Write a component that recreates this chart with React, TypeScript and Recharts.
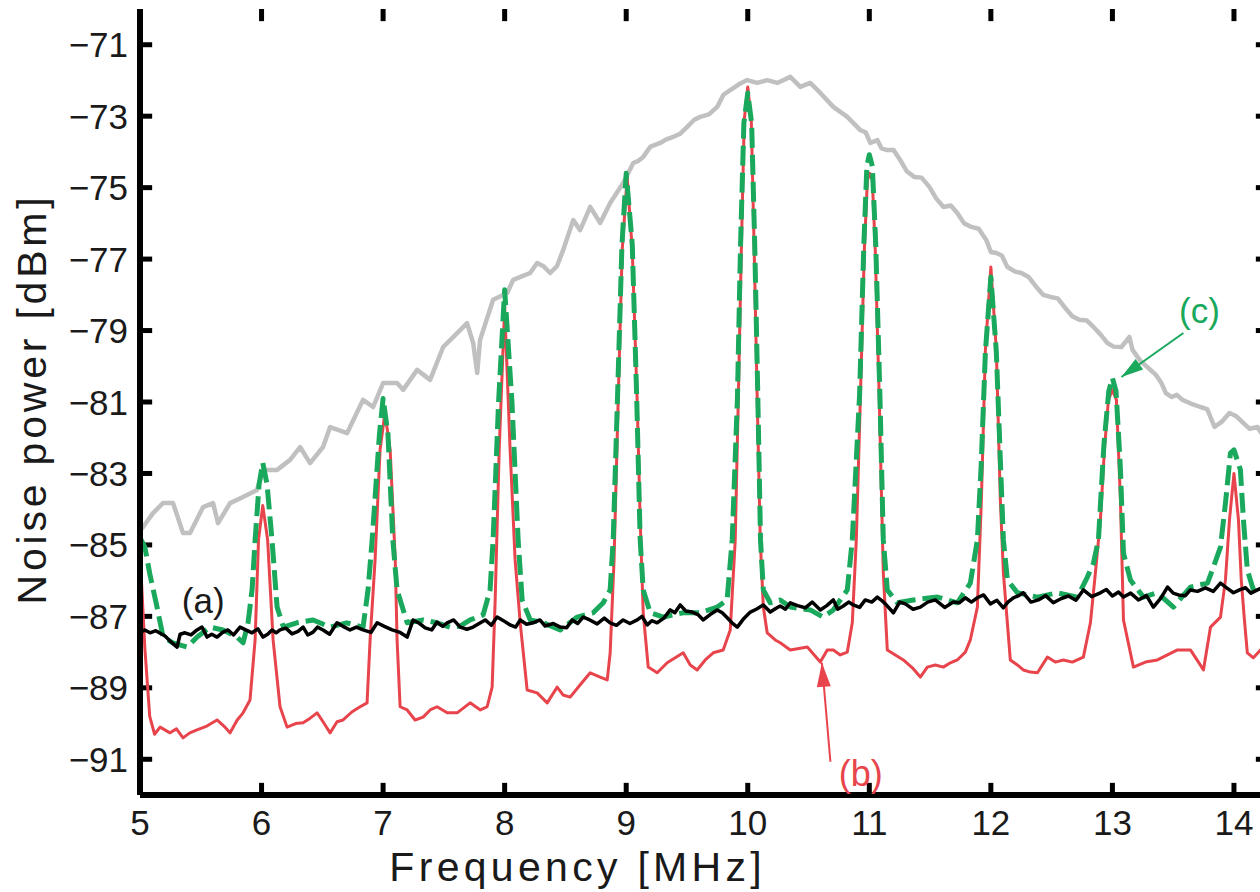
import React from 'react';
import { LineChart, Line, XAxis, YAxis, ReferenceLine, ReferenceDot } from 'recharts';

type Pt = { f: number; p: number };
const toPts = (arr: number[][]): Pt[] => arr.map(([f, p]) => ({ f, p }));

const X_TICKS = [5, 6, 7, 8, 9, 10, 11, 12, 13, 14];
const Y_TICKS = [-91, -89, -87, -85, -83, -81, -79, -77, -75, -73, -71];
const X_DOMAIN = [5, 14.28];
const Y_DOMAIN = [-92, -70];

// gray: reference (broad) spectrum
const grayRaw = [
  [5.0, -84.6], [5.025, -84.5], [5.107, -84.11], [5.189, -83.83], [5.272, -83.83], [5.354, -84.67],
  [5.412, -84.67], [5.519, -83.94], [5.601, -83.83], [5.642, -84.39], [5.741, -83.83], [5.848, -83.66],
  [5.963, -83.46], [6.012, -82.9], [6.128, -82.9], [6.235, -82.62], [6.317, -82.26], [6.399, -82.71],
  [6.506, -82.26], [6.564, -81.7], [6.704, -81.87], [6.835, -80.94], [6.918, -81.14], [7.0, -80.47],
  [7.115, -80.47], [7.165, -80.66], [7.28, -80.1], [7.387, -80.38], [7.494, -79.46], [7.609, -79.07],
  [7.691, -78.79], [7.741, -79.35], [7.774, -80.19], [7.798, -79.26], [7.905, -78.14], [8.021, -77.95],
  [8.07, -77.58], [8.13, -77.5], [8.21, -77.39], [8.267, -77.11], [8.32, -77.2], [8.374, -77.39],
  [8.43, -77.2], [8.481, -76.75], [8.564, -75.91], [8.621, -76.19], [8.704, -75.54], [8.786, -75.99],
  [8.868, -75.43], [8.975, -74.87], [9.058, -74.31], [9.1, -74.25], [9.14, -74.14], [9.2, -73.85],
  [9.28, -73.75], [9.33, -73.65], [9.387, -73.58], [9.44, -73.5], [9.502, -73.3], [9.56, -73.1],
  [9.609, -73.02], [9.68, -72.95], [9.749, -72.74], [9.8, -72.4], [9.856, -72.27], [9.93, -72.1],
  [9.996, -71.99], [10.078, -72.07], [10.16, -71.99], [10.243, -72.07], [10.35, -71.9], [10.432, -72.18],
  [10.514, -72.07], [10.597, -72.35], [10.704, -72.74], [10.819, -73.02], [10.926, -73.39], [10.97, -73.45],
  [11.008, -73.75], [11.066, -73.67], [11.1, -73.9], [11.148, -73.95], [11.2, -73.95], [11.255, -74.23],
  [11.31, -74.55], [11.37, -74.7], [11.43, -74.72], [11.494, -74.98], [11.55, -75.3], [11.609, -75.54],
  [11.67, -75.5], [11.724, -75.71], [11.78, -76.0], [11.84, -76.1], [11.9, -76.15], [11.963, -76.47],
  [12.0, -76.8], [12.045, -76.83], [12.09, -76.9], [12.136, -77.22], [12.2, -77.35], [12.251, -77.39],
  [12.31, -77.5], [12.374, -77.78], [12.43, -78.0], [12.49, -78.06], [12.55, -78.1], [12.605, -78.34],
  [12.67, -78.6], [12.728, -78.7], [12.79, -78.72], [12.844, -78.9], [12.9, -79.1], [12.959, -79.35],
  [13.01, -79.45], [13.074, -79.46], [13.14, -79.18], [13.165, -79.54], [13.23, -79.85], [13.313, -80.1],
  [13.36, -80.25], [13.403, -80.47], [13.44, -80.75], [13.486, -80.86], [13.53, -80.8], [13.576, -80.94],
  [13.65, -81.05], [13.724, -81.14], [13.78, -81.2], [13.84, -81.7], [13.9, -81.55], [13.963, -81.31],
  [14.02, -81.4], [14.078, -81.59], [14.13, -81.75], [14.193, -81.7], [14.26, -82.06], [14.32, -82.1],
];

// red (b)
const redRaw = [
  [5.0, -85.2], [5.04, -87.9], [5.08, -89.8], [5.12, -90.3], [5.165, -90.1], [5.247, -90.26], [5.3, -90.15],
  [5.354, -90.4], [5.41, -90.26], [5.469, -90.18], [5.55, -90.07], [5.634, -89.9], [5.69, -90.07], [5.741, -90.26],
  [5.8, -89.9], [5.848, -89.7], [5.905, -89.34], [5.947, -87.66], [5.975, -84.86], [6.01, -83.9], [6.05, -84.86],
  [6.095, -87.66], [6.152, -89.53], [6.21, -90.1], [6.28, -90.0], [6.342, -89.98], [6.4, -89.85], [6.457, -89.7],
  [6.506, -89.95], [6.564, -90.26], [6.621, -89.95], [6.671, -89.9], [6.745, -89.67], [6.811, -89.53],
  [6.868, -89.42], [6.893, -87.66], [6.934, -85.42], [6.975, -82.34], [7.015, -81.3], [7.058, -82.34],
  [7.1, -85.42], [7.115, -87.66], [7.14, -89.53], [7.198, -89.62], [7.263, -89.9], [7.329, -89.82],
  [7.387, -89.62], [7.444, -89.53], [7.527, -89.7], [7.609, -89.7], [7.716, -89.42], [7.8, -89.62],
  [7.856, -89.53], [7.897, -88.98], [7.922, -86.54], [7.955, -82.34], [8.0, -78.34], [8.045, -82.34],
  [8.086, -85.42], [8.128, -87.18], [8.185, -89.06], [8.267, -89.14], [8.35, -89.42], [8.432, -88.98],
  [8.48, -89.2], [8.539, -89.26], [8.62, -88.92], [8.704, -88.58], [8.786, -88.7], [8.844, -88.78],
  [8.868, -88.02], [8.9, -85.42], [8.934, -80.94], [8.967, -76.75], [9.008, -74.7], [9.05, -76.75],
  [9.09, -80.94], [9.115, -84.3], [9.14, -86.9], [9.181, -88.42], [9.255, -88.58], [9.337, -88.3],
  [9.403, -88.16], [9.469, -88.02], [9.527, -88.36], [9.584, -88.5], [9.65, -88.22], [9.716, -88.02],
  [9.798, -87.94], [9.856, -87.38], [9.897, -84.86], [9.922, -80.94], [9.947, -76.75], [9.971, -73.11],
  [10.0, -72.18], [10.029, -73.11], [10.053, -76.75], [10.078, -80.94], [10.103, -84.86], [10.128, -86.74],
  [10.16, -87.46], [10.226, -87.66], [10.267, -87.74], [10.35, -87.94], [10.432, -87.89], [10.49, -87.86],
  [10.547, -88.08], [10.597, -88.28], [10.654, -87.94], [10.704, -87.94], [10.761, -88.08], [10.819, -88.0],
  [10.86, -87.18], [10.893, -84.86], [10.926, -80.94], [10.959, -76.75], [10.984, -74.79], [11.004, -74.6],
  [11.025, -74.79], [11.049, -76.75], [11.082, -80.94], [11.115, -85.78], [11.148, -87.94], [11.214, -88.08],
  [11.28, -88.22], [11.354, -88.44], [11.42, -88.7], [11.477, -88.42], [11.543, -88.36], [11.609, -88.42],
  [11.667, -88.3], [11.724, -88.22], [11.79, -88.0], [11.831, -87.66], [11.889, -86.74], [11.922, -83.74],
  [11.955, -79.54], [12.0, -77.22], [12.045, -79.54], [12.078, -83.74], [12.103, -85.78], [12.16, -88.22],
  [12.218, -88.36], [12.267, -88.5], [12.325, -88.56], [12.383, -88.58], [12.465, -88.14], [12.53, -88.28],
  [12.597, -88.22], [12.67, -88.28], [12.761, -88.14], [12.819, -87.18], [12.86, -85.78], [12.901, -84.3],
  [12.934, -82.34], [12.967, -80.94], [13.0, -80.66], [13.033, -80.94], [13.066, -83.74], [13.091, -87.1],
  [13.173, -88.42], [13.272, -88.28], [13.37, -88.22], [13.453, -88.08], [13.535, -87.94], [13.642, -87.94],
  [13.708, -88.28], [13.749, -88.5], [13.807, -87.3], [13.889, -87.02], [13.93, -85.98], [13.963, -84.3],
  [14.0, -83.0], [14.037, -84.3], [14.06, -85.98], [14.086, -87.1], [14.11, -88.02], [14.16, -88.16],
  [14.218, -87.94], [14.27, -87.89], [14.32, -87.9],
];

// green dashed (c)
const greenRaw = [
  [5.0, -84.8], [5.04, -85.06], [5.08, -85.8], [5.14, -86.74], [5.19, -87.58], [5.27, -87.74], [5.387, -87.86],
  [5.47, -87.58], [5.576, -87.3], [5.683, -87.38], [5.798, -87.58], [5.848, -87.74], [5.889, -87.18],
  [5.922, -86.26], [5.947, -84.86], [5.98, -83.3], [6.01, -82.7], [6.045, -83.3], [6.086, -84.86],
  [6.128, -86.74], [6.18, -87.3], [6.29, -87.18], [6.424, -87.1], [6.564, -87.3], [6.7, -87.18],
  [6.835, -87.3], [6.876, -86.26], [6.91, -84.86], [6.97, -81.9], [7.0, -80.9], [7.04, -81.9],
  [7.08, -84.86], [7.115, -86.26], [7.198, -87.18], [7.33, -87.1], [7.444, -87.18], [7.55, -87.3],
  [7.63, -87.28], [7.716, -87.1], [7.823, -86.96], [7.88, -86.26], [7.905, -84.86], [7.95, -81.0],
  [8.0, -77.86], [8.06, -81.0], [8.111, -84.86], [8.144, -86.54], [8.21, -87.1], [8.317, -87.18],
  [8.457, -87.38], [8.597, -87.02], [8.728, -86.9], [8.811, -86.62], [8.868, -86.26], [8.893, -84.86],
  [8.93, -80.7], [8.965, -76.6], [9.0, -74.6], [9.05, -76.6], [9.085, -80.7], [9.115, -84.86],
  [9.14, -86.26], [9.198, -86.9], [9.305, -87.02], [9.469, -86.9], [9.609, -86.9], [9.749, -86.74],
  [9.83, -86.54], [9.872, -84.86], [9.915, -80.9], [9.94, -76.7], [9.968, -73.2], [10.0, -72.35],
  [10.032, -73.2], [10.058, -76.7], [10.083, -80.9], [10.105, -84.86], [10.128, -86.26], [10.185, -86.62],
  [10.267, -86.54], [10.35, -86.74], [10.514, -86.82], [10.62, -87.02], [10.704, -86.82], [10.819, -86.26],
  [10.86, -84.86], [10.92, -80.8], [10.955, -76.6], [10.98, -74.4], [11.0, -74.08], [11.025, -74.4],
  [11.053, -76.6], [11.087, -80.8], [11.115, -84.86], [11.148, -86.26], [11.23, -86.62], [11.362, -86.54],
  [11.56, -86.46], [11.724, -86.62], [11.831, -86.07], [11.889, -84.86], [11.92, -82.8], [11.955, -79.6],
  [12.0, -77.5], [12.045, -79.6], [12.08, -82.8], [12.103, -84.86], [12.136, -85.98], [12.218, -86.34],
  [12.383, -86.46], [12.547, -86.34], [12.712, -86.46], [12.794, -85.9], [12.844, -85.51], [12.885, -84.86],
  [12.93, -82.2], [12.97, -80.7], [13.0, -80.33], [13.03, -80.7], [13.065, -82.8], [13.091, -85.23],
  [13.148, -85.98], [13.255, -86.46], [13.37, -86.34], [13.502, -86.74], [13.642, -86.18], [13.782, -86.07],
  [13.831, -85.62], [13.889, -85.06], [13.93, -83.83], [13.971, -82.43], [14.0, -82.34], [14.053, -82.9],
  [14.078, -84.3], [14.11, -85.7], [14.16, -86.26], [14.218, -86.18], [14.27, -86.2], [14.32, -86.2],
];

// black (a)
const blackRaw = [
  [5.0, -87.46], [5.04, -87.38], [5.082, -87.46], [5.13, -87.4], [5.206, -87.55], [5.25, -87.7], [5.305, -87.86],
  [5.33, -87.5], [5.37, -87.46], [5.42, -87.52], [5.469, -87.38], [5.51, -87.3], [5.551, -87.58], [5.59, -87.5],
  [5.634, -87.58], [5.68, -87.45], [5.724, -87.38], [5.77, -87.52], [5.823, -87.3], [5.87, -87.38], [5.922, -87.46],
  [5.97, -87.35], [6.012, -87.58], [6.05, -87.5], [6.086, -87.38], [6.12, -87.46], [6.152, -87.38], [6.2, -87.33],
  [6.251, -87.49], [6.3, -87.42], [6.342, -87.3], [6.38, -87.52], [6.424, -87.44], [6.46, -87.3], [6.506, -87.38],
  [6.56, -87.5], [6.621, -87.18], [6.67, -87.28], [6.728, -87.38], [6.78, -87.3], [6.835, -87.38], [6.9, -87.45],
  [6.951, -87.18], [7.01, -87.28], [7.074, -87.38], [7.14, -87.45], [7.198, -87.58], [7.247, -87.1], [7.3, -87.2],
  [7.346, -87.32], [7.4, -87.38], [7.444, -87.16], [7.49, -87.28], [7.527, -87.18], [7.58, -87.1], [7.634, -87.3],
  [7.69, -87.36], [7.741, -87.3], [7.79, -87.2], [7.84, -87.1], [7.89, -87.25], [7.938, -87.02], [7.99, -87.12],
  [8.045, -87.24], [8.09, -87.3], [8.128, -87.1], [8.18, -87.22], [8.235, -87.18], [8.29, -87.1], [8.333, -87.27],
  [8.4, -87.2], [8.457, -87.3], [8.51, -87.32], [8.556, -87.1], [8.6, -87.2], [8.646, -87.02], [8.7, -87.1],
  [8.761, -87.21], [8.82, -87.05], [8.868, -87.18], [8.92, -87.25], [8.975, -87.1], [9.03, -87.2], [9.091, -87.1],
  [9.13, -87.0], [9.173, -87.24], [9.21, -87.12], [9.255, -87.18], [9.31, -87.05], [9.362, -86.82], [9.4, -86.9],
  [9.444, -86.68], [9.49, -86.85], [9.543, -86.88], [9.59, -86.95], [9.634, -87.1], [9.69, -86.95], [9.749, -86.82],
  [9.79, -86.9], [9.831, -87.04], [9.87, -87.18], [9.914, -87.3], [9.97, -87.05], [10.021, -86.88], [10.07, -86.8],
  [10.128, -86.68], [10.185, -86.88], [10.23, -86.78], [10.267, -86.71], [10.31, -86.8], [10.35, -86.62],
  [10.41, -86.7], [10.473, -86.76], [10.53, -86.6], [10.597, -86.82], [10.65, -86.7], [10.704, -86.54],
  [10.74, -86.8], [10.786, -86.71], [10.83, -86.6], [10.868, -86.68], [10.92, -86.75], [10.967, -86.54],
  [11.02, -86.6], [11.066, -86.46], [11.1, -86.55], [11.132, -86.65], [11.198, -86.9], [11.25, -86.6],
  [11.296, -86.65], [11.36, -86.8], [11.42, -86.74], [11.48, -86.6], [11.543, -86.54], [11.62, -86.75],
  [11.691, -86.6], [11.74, -86.62], [11.79, -86.48], [11.84, -86.6], [11.889, -86.48], [11.94, -86.4],
  [11.996, -86.65], [12.05, -86.55], [12.103, -86.76], [12.14, -86.6], [12.185, -86.48], [12.23, -86.42],
  [12.267, -86.34], [12.33, -86.6], [12.391, -86.54], [12.45, -86.42], [12.514, -86.62], [12.58, -86.5],
  [12.638, -86.43], [12.7, -86.55], [12.761, -86.26], [12.83, -86.45], [12.901, -86.34], [12.95, -86.25],
  [13.0, -86.43], [13.05, -86.32], [13.091, -86.46], [13.15, -86.35], [13.214, -86.54], [13.28, -86.42],
  [13.337, -86.74], [13.4, -86.48], [13.453, -86.18], [13.5, -86.35], [13.543, -86.4], [13.6, -86.42],
  [13.642, -86.26], [13.7, -86.3], [13.765, -86.2], [13.83, -86.3], [13.889, -86.07], [13.94, -86.2],
  [13.996, -86.34], [14.05, -86.25], [14.095, -86.2], [14.14, -86.35], [14.193, -86.26], [14.23, -86.2],
  [14.26, -86.32], [14.32, -86.3],
];

const grayData = toPts(grayRaw);
const redData = toPts(redRaw);
const greenData = toPts(greenRaw);
const blackData = toPts(blackRaw);

// annotations (data coordinates)
const A_LABEL = { f: 5.52, p: -86.54, text: '(a)' };
const B_LABEL = { f: 10.93, p: -91.38, text: '(b)' };
const B_TAIL = { f: 10.68, p: -91.07 };
const B_TIP = { f: 10.61, p: -88.3 };
const C_LABEL = { f: 13.716, p: -78.45, text: '(c)' };
const C_TAIL = { f: 13.584, p: -79.07 };
const C_TIP = { f: 13.074, p: -80.3 };

// inward tick lengths, expressed in axis units
const X_TICK_LEN = 0.34; // dB
const Y_TICK_LEN = 0.1; // MHz

const FONT = '"Liberation Sans", Arial, Helvetica, sans-serif';
const RED = '#e8444c';
const GREEN = '#19a85c';
const GRAY = '#c0c0c0';
const TICK_FS = 35;
const TM_X = 14;
const TM_Y = 12;

const fmt = (v: number) => (v < 0 ? '\u2212' + Math.abs(v) : String(v));

const BottomTick = (props: any) => {
  const { x, y, payload } = props;
  return (
    <text x={x} y={y + 26} textAnchor="middle" fontSize={TICK_FS} fontFamily={FONT} fill="#1a1a1a">
      {payload.value}
    </text>
  );
};

const LeftTick = (props: any) => {
  const { x, y, payload } = props;
  return (
    <text x={x} y={y + 12.5} textAnchor="end" fontSize={TICK_FS} fontFamily={FONT} fill="#1a1a1a">
      {fmt(payload.value)}
    </text>
  );
};

const XTitle = (props: any) => {
  const vb = props.viewBox || {};
  return (
    <text x={vb.x + vb.width * 0.388} y={vb.y + 86} textAnchor="middle" fontSize={41}
      fontFamily={FONT} fill="#1a1a1a" letterSpacing={4.3}>
      Frequency [MHz]
    </text>
  );
};

const YTitle = (props: any) => {
  const vb = props.viewBox || {};
  const cx = vb.x + 46;
  const cy = vb.y + vb.height / 2 - 3;
  return (
    <text transform={`translate(${cx},${cy}) rotate(-90)`} x={0} y={0} textAnchor="middle" fontSize={41}
      fontFamily={FONT} fill="#1a1a1a" letterSpacing={3.8}>
      Noise power [dBm]
    </text>
  );
};

const makeText = (text: string, color: string, size: number) => (props: any) => (
  <text x={props.cx} y={props.cy + size * 0.36} textAnchor="middle" fontSize={size} fontFamily={FONT} fill={color}>
    {text}
  </text>
);

const makeHead = (color: string, angleDeg: number, len: number, halfW: number) => (props: any) => {
  const { cx, cy } = props;
  const a = (angleDeg * Math.PI) / 180;
  const bx = cx - len * Math.cos(a);
  const by = cy - len * Math.sin(a);
  const px = -Math.sin(a) * halfW;
  const py = Math.cos(a) * halfW;
  return <polygon points={`${cx},${cy} ${bx + px},${by + py} ${bx - px},${by - py}`} fill={color} />;
};

export default function App() {
  const [x0, x1] = X_DOMAIN;
  const [y0, y1] = Y_DOMAIN;
  return (
    <div style={{ position: 'absolute', left: 0, top: 0, width: 1260, height: 892, overflow: 'hidden', background: '#fff' }}>
      <LineChart width={1288} height={892} margin={{ top: 9, right: 20, left: 0, bottom: 0 }}>
        <XAxis dataKey="f" type="number" domain={X_DOMAIN} ticks={X_TICKS} allowDataOverflow
          height={97} tickSize={0} tickMargin={TM_X} tickLine={false}
          axisLine={{ stroke: '#000', strokeWidth: 6 }} tick={BottomTick} label={XTitle} />
        <XAxis xAxisId="top" orientation="top" dataKey="f" type="number" domain={X_DOMAIN} ticks={X_TICKS}
          allowDataOverflow height={0} tickSize={0} tickMargin={0} tickLine={false} tick={false}
          axisLine={{ stroke: '#000', strokeWidth: 6 }} />
        <YAxis type="number" domain={Y_DOMAIN} ticks={Y_TICKS} allowDataOverflow width={140}
          tickSize={0} tickMargin={TM_Y} tickLine={false}
          axisLine={{ stroke: '#000', strokeWidth: 6 }} tick={LeftTick} label={YTitle} />
        <YAxis yAxisId="right" orientation="right" type="number" domain={Y_DOMAIN} ticks={Y_TICKS}
          allowDataOverflow width={0} tickSize={0} tickMargin={0} tickLine={false} tick={false}
          axisLine={{ stroke: '#000', strokeWidth: 6 }} />

        {X_TICKS.filter((t) => t > x0).map((t) => (
          <ReferenceLine key={`xb${t}`} segment={[{ x: t, y: y0 }, { x: t, y: y0 + X_TICK_LEN }]}
            stroke="#000" strokeWidth={5} ifOverflow="visible" />
        ))}
        {X_TICKS.filter((t) => t > x0).map((t) => (
          <ReferenceLine key={`xt${t}`} segment={[{ x: t, y: y1 }, { x: t, y: y1 - X_TICK_LEN }]}
            stroke="#000" strokeWidth={5} ifOverflow="visible" />
        ))}
        {Y_TICKS.map((t) => (
          <ReferenceLine key={`yl${t}`} segment={[{ x: x0, y: t }, { x: x0 + Y_TICK_LEN, y: t }]}
            stroke="#000" strokeWidth={5} ifOverflow="visible" />
        ))}
        {Y_TICKS.map((t) => (
          <ReferenceLine key={`yr${t}`} segment={[{ x: x1, y: t }, { x: x1 - Y_TICK_LEN, y: t }]}
            stroke="#000" strokeWidth={5} ifOverflow="visible" />
        ))}

        <Line data={grayData} dataKey="p" type="linear" stroke={GRAY} strokeWidth={4.5} dot={false}
          isAnimationActive={false} strokeLinejoin="round" />
        <Line data={redData} dataKey="p" type="linear" stroke={RED} strokeWidth={3} dot={false}
          isAnimationActive={false} strokeLinejoin="round" />
        <Line data={greenData} dataKey="p" type="linear" stroke={GREEN} strokeWidth={5} dot={false}
          strokeDasharray="20 7" isAnimationActive={false} strokeLinejoin="round" />
        <Line data={blackData} dataKey="p" type="linear" stroke="#000" strokeWidth={3.5} dot={false}
          isAnimationActive={false} strokeLinejoin="round" />

        <ReferenceDot x={A_LABEL.f} y={A_LABEL.p} r={0} ifOverflow="visible" shape={makeText(A_LABEL.text, '#1a1a1a', 35)} />

        <ReferenceLine segment={[{ x: B_TAIL.f, y: B_TAIL.p }, { x: B_TIP.f, y: B_TIP.p }]}
          stroke={RED} strokeWidth={2} ifOverflow="visible" />
        <ReferenceDot x={B_TIP.f} y={B_TIP.p} r={0} ifOverflow="visible" shape={makeHead(RED, -94.6, 24, 7)} />
        <ReferenceDot x={B_LABEL.f} y={B_LABEL.p} r={0} ifOverflow="visible" shape={makeText(B_LABEL.text, RED, 36)} />

        <ReferenceLine segment={[{ x: C_TAIL.f, y: C_TAIL.p }, { x: C_TIP.f, y: C_TIP.p }]}
          stroke={GREEN} strokeWidth={2} ifOverflow="visible" />
        <ReferenceDot x={C_TIP.f} y={C_TIP.p} r={0} ifOverflow="visible" shape={makeHead(GREEN, 144.6, 22, 6.5)} />
        <ReferenceDot x={C_LABEL.f} y={C_LABEL.p} r={0} ifOverflow="visible" shape={makeText(C_LABEL.text, GREEN, 35)} />
      </LineChart>
    </div>
  );
}
